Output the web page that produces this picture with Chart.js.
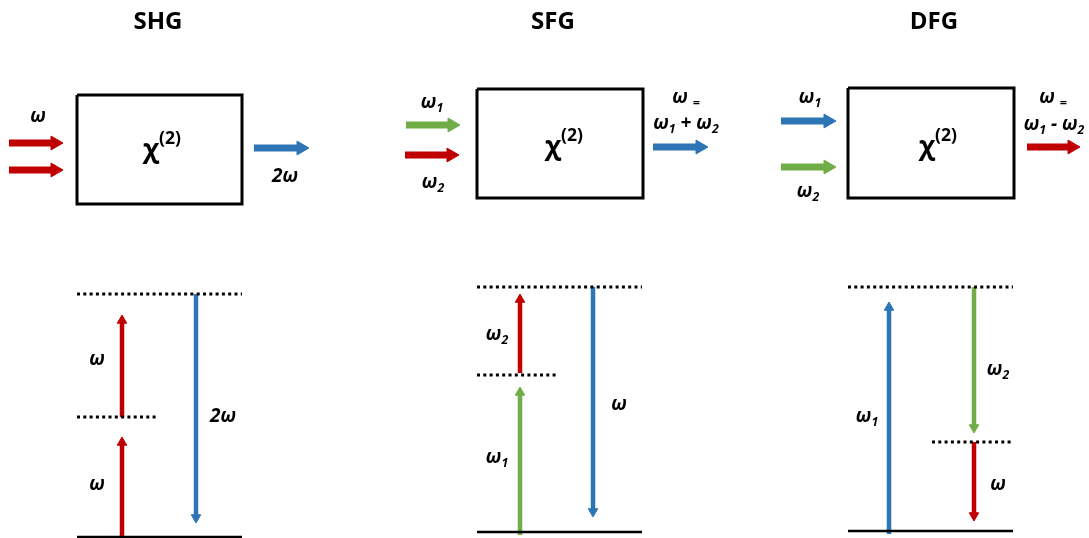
<!DOCTYPE html>
<html>
<head>
<meta charset="utf-8">
<script src="https://cdn.jsdelivr.net/npm/chart.js@4.4.1/dist/chart.umd.min.js"></script>
<style>
  body { margin: 0; background: #fff; }
  #diagram { display: block; }
</style>
</head>
<body>
<canvas id="diagram" width="1089" height="538"></canvas>
<script>
// diagram drawn on a scatter chart, one unit = one pixel
var W = 1089, H = 538;
var RED = '#C00000', BLUE = '#2E75B6', GREEN = '#70AD47';

var titles = [
  {text: 'SHG', x: 158, y: 22},
  {text: 'SFG', x: 553, y: 22},
  {text: 'DFG', x: 934, y: 22}
];

// crystal boxes [left, top, right, bottom]
var boxes = [[77, 95, 242, 204], [477, 89, 643, 198], [848, 88, 1014, 198]];

// energy levels [x1, x2, y]
var groundLevels = [[77, 242, 537], [477, 642, 532], [848, 1013, 531]];
var virtualLevels = [
  [77, 242, 294], [77, 158, 417],
  [477, 642, 287], [477, 558, 375],
  [848, 1013, 287], [932, 1013, 442]
];

// beams in/out of the crystal [x1, y, x2, colour]
var beams = [
  [9, 143, 63, RED], [9, 170, 63, RED], [254, 148, 309, BLUE],
  [406, 125, 460, GREEN], [405, 155, 459, RED], [653, 147, 708, BLUE],
  [781, 121, 836, BLUE], [781, 167, 836, GREEN], [1027, 147, 1080, RED]
];

// photon transitions [x, yFrom, yTo, colour]
var transitions = [
  [122, 540, 437, RED], [122, 417, 315, RED], [196, 294, 523, BLUE],
  [520, 535, 387, GREEN], [520, 373, 294, RED], [593, 287, 517, BLUE],
  [889, 534, 302, BLUE], [974, 287, 433, GREEN], [974, 442, 521, RED]
];

// labels: _x = subscript, ^... = superscript
var chiLabels = [
  {text: 'χ^(2)', x: 162, y: 150},
  {text: 'χ^(2)', x: 564, y: 147},
  {text: 'χ^(2)', x: 938, y: 147}
];
var omegaLabels = [
  {text: 'ω', x: 38, y: 117}, {text: '2ω', x: 285, y: 177},
  {text: 'ω_1', x: 432, y: 103}, {text: 'ω_2', x: 433, y: 183},
  {text: 'ω _=', x: 686, y: 98}, {text: 'ω_1 + ω_2', x: 686, y: 124},
  {text: 'ω_1', x: 810, y: 98}, {text: 'ω_2', x: 808, y: 192},
  {text: 'ω _=', x: 1053, y: 98}, {text: 'ω_1 - ω_2', x: 1054, y: 125},
  {text: 'ω', x: 97, y: 360}, {text: 'ω', x: 97, y: 485}, {text: '2ω', x: 223, y: 417},
  {text: 'ω_2', x: 497, y: 335}, {text: 'ω_1', x: 497, y: 458}, {text: 'ω', x: 619, y: 405},
  {text: 'ω_1', x: 867, y: 417}, {text: 'ω_2', x: 998, y: 370}, {text: 'ω', x: 998, y: 485}
];

var datasets = [];

function lineSet(pts, color, width, dash) {
  datasets.push({
    data: pts, showLine: true, borderColor: color, borderWidth: width,
    borderDash: dash || [], borderCapStyle: 'butt', pointRadius: 0, fill: false
  });
}

function arrow(x1, y1, x2, y2, color, width, r) {
  var len = Math.hypot(x2 - x1, y2 - y1);
  var dx = (x2 - x1) / len, dy = (y2 - y1) / len;
  lineSet([{x: x1, y: y1}, {x: x2 - dx * r * 1.3, y: y2 - dy * r * 1.3}], color, width);
  // screen angle: y axis is reversed so y grows downward like pixels
  var rot = Math.atan2(dx, -dy) * 180 / Math.PI;
  datasets.push({
    data: [{x: x2 - dx * r, y: y2 - dy * r}], showLine: false,
    pointStyle: 'triangle', pointRadius: r, rotation: rot,
    backgroundColor: color, borderColor: color, borderWidth: 1
  });
}

boxes.forEach(function (b) {
  lineSet([{x: b[0], y: b[1]}, {x: b[2], y: b[1]}, {x: b[2], y: b[3]},
           {x: b[0], y: b[3]}, {x: b[0], y: b[1]}], '#000', 3);
});
groundLevels.forEach(function (l) {
  lineSet([{x: l[0], y: l[2]}, {x: l[1], y: l[2]}], '#000', 2.5);
});
virtualLevels.forEach(function (l) {
  lineSet([{x: l[0], y: l[2]}, {x: l[1], y: l[2]}], '#000', 3, [3, 3.3]);
});
beams.forEach(function (b) {
  arrow(b[0], b[1], b[2], b[1], b[3], 7, 8);
});
transitions.forEach(function (t) {
  arrow(t[0], t[1], t[0], t[2], t[3], 4.5, 5.5);
});

function drawRich(ctx, str, cx, cy, size, style) {
  var runs = [], i = 0, base = '';
  while (i < str.length) {
    var c = str[i];
    if (c === '_') {
      if (base) { runs.push({t: base, k: 0}); base = ''; }
      runs.push({t: str[i + 1], k: 1}); i += 2;
    } else if (c === '^') {
      if (base) { runs.push({t: base, k: 0}); base = ''; }
      runs.push({t: str.slice(i + 1), k: 2}); i = str.length;
    } else { base += c; i++; }
  }
  if (base) runs.push({t: base, k: 0});
  var total = 0;
  runs.forEach(function (r) {
    var s = r.k ? size * 0.65 : size;
    ctx.font = style + ' ' + s + 'px "Open Sans"';
    r.w = ctx.measureText(r.t).width;
    r.s = s;
    total += r.w;
  });
  var x = cx - total / 2;
  ctx.textAlign = 'left';
  ctx.textBaseline = 'middle';
  runs.forEach(function (r) {
    ctx.font = style + ' ' + r.s + 'px "Open Sans"';
    var off = r.k === 1 ? size * 0.3 : (r.k === 2 ? -size * 0.4 : 0);
    ctx.fillText(r.t, x, cy + off);
    x += r.w;
  });
}

var textPlugin = {
  id: 'texts',
  afterDatasetsDraw: function (chart) {
    var ctx = chart.ctx, sx = chart.scales.x, sy = chart.scales.y;
    ctx.save();
    ctx.fillStyle = '#000';
    titles.forEach(function (t) {
      drawRich(ctx, t.text, sx.getPixelForValue(t.x), sy.getPixelForValue(t.y), 24, 'bold');
    });
    chiLabels.forEach(function (t) {
      drawRich(ctx, t.text, sx.getPixelForValue(t.x), sy.getPixelForValue(t.y), 27, 'bold');
    });
    omegaLabels.forEach(function (t) {
      drawRich(ctx, t.text, sx.getPixelForValue(t.x), sy.getPixelForValue(t.y), 19, 'italic bold');
    });
    ctx.restore();
  }
};

var chart = new Chart(document.getElementById('diagram').getContext('2d'), {
  type: 'scatter',
  data: {datasets: datasets},
  options: {
    responsive: false,
    animation: false,
    devicePixelRatio: 1,
    layout: {padding: 0, autoPadding: false},
    plugins: {legend: {display: false}, tooltip: {enabled: false}},
    scales: {
      x: {type: 'linear', min: 0, max: W, display: false},
      y: {type: 'linear', min: 0, max: H, reverse: true, display: false}
    }
  },
  plugins: [textPlugin]
});
</script>
</body>
</html>
